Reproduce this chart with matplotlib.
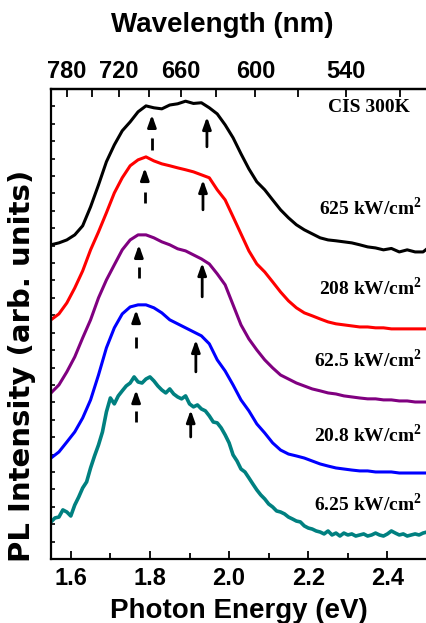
import matplotlib
matplotlib.use('Agg')
import matplotlib.pyplot as plt
from matplotlib.ticker import MultipleLocator, FixedLocator

plt.rcParams['font.family'] = ['Liberation Sans', 'DejaVu Sans']
plt.rcParams['font.weight'] = 'bold'
plt.rcParams['mathtext.fontset'] = 'custom'
plt.rcParams['mathtext.bf'] = 'Liberation Serif:bold'
plt.rcParams['mathtext.rm'] = 'Liberation Serif:bold'

# photon energy grids (eV)
energy = [round(1.55 + 0.02 * i, 2) for i in range(48)] + [2.50]
energy_fine = [round(1.55 + 0.01 * i, 2) for i in range(96)]

# PL spectra, offset for clarity (arb. units)
pl_625 = [18.05, 18.16, 18.33, 18.62, 19.14, 20.23, 21.49, 22.82, 23.79, 24.60,
          25.11, 25.69, 26.03, 25.92, 25.86, 26.08, 26.15, 26.30, 26.17, 26.21,
          25.92, 25.57, 24.94, 24.20, 23.28, 22.41, 21.67, 21.21, 20.63, 20.06,
          19.60, 19.20, 18.91, 18.68, 18.45, 18.33, 18.28, 18.22, 18.16, 18.05,
          17.93, 17.87, 17.76, 17.84, 17.64, 17.76, 17.64, 17.64, 17.82]
pl_208 = [13.74, 14.08, 14.71, 15.57, 16.55, 17.76, 18.79, 19.89, 21.03, 21.90,
          22.59, 22.93, 23.10, 22.87, 22.70, 22.59, 22.47, 22.36, 22.24, 22.07,
          21.90, 21.21, 20.63, 19.66, 18.68, 17.70, 16.95, 16.49, 15.92, 15.34,
          14.83, 14.43, 14.14, 13.97, 13.79, 13.62, 13.51, 13.45, 13.39, 13.33,
          13.33, 13.28, 13.28, 13.22, 13.22, 13.22, 13.22, 13.22, 13.22]
pl_62 = [9.54, 10.00, 10.75, 11.61, 12.70, 13.74, 15.00, 16.03, 16.90, 17.76,
         18.33, 18.62, 18.62, 18.45, 18.22, 18.05, 17.82, 17.70, 17.47, 17.24,
         16.95, 16.38, 15.75, 14.60, 13.45, 12.64, 12.01, 11.44, 10.98, 10.57,
         10.34, 10.11, 9.94, 9.77, 9.66, 9.54, 9.48, 9.37, 9.31, 9.25,
         9.20, 9.20, 9.14, 9.14, 9.08, 9.08, 9.02, 9.02, 9.02]
pl_20 = [5.80, 6.15, 6.72, 7.30, 8.10, 9.14, 10.57, 12.13, 13.28, 14.08,
         14.48, 14.60, 14.60, 14.43, 14.14, 13.74, 13.51, 13.28, 13.05, 12.82,
         12.36, 11.44, 10.80, 10.00, 9.14, 8.51, 7.76, 7.24, 6.67, 6.26,
         6.03, 5.92, 5.80, 5.63, 5.46, 5.34, 5.23, 5.17, 5.11, 5.06,
         5.06, 5.00, 5.00, 5.00, 4.94, 4.94, 4.94, 4.94, 4.94]
pl_6 = [2.13, 2.36, 2.41, 2.82, 2.70, 2.47, 3.10, 3.56, 4.08, 4.43,
        5.23, 5.92, 6.55, 7.30, 8.45, 9.25, 8.91, 9.37, 9.66, 9.94,
        10.11, 10.46, 10.17, 10.11, 10.34, 10.46, 10.23, 9.94, 9.71, 9.54,
        9.77, 9.48, 9.31, 9.20, 9.37, 8.91, 8.74, 8.85, 8.62, 8.51,
        8.22, 7.87, 7.82, 7.53, 7.13, 6.67, 5.98, 5.63, 5.17, 5.00,
        4.66, 4.31, 3.97, 3.68, 3.45, 3.16, 2.99, 2.76, 2.70, 2.59,
        2.41, 2.30, 2.18, 2.13, 1.90, 1.78, 1.72, 1.61, 1.55, 1.44,
        1.61, 1.38, 1.49, 1.32, 1.49, 1.38, 1.44, 1.32, 1.38, 1.44,
        1.32, 1.38, 1.49, 1.38, 1.32, 1.44, 1.61, 1.49, 1.38, 1.44,
        1.32, 1.38, 1.44, 1.38, 1.49, 1.55]

power_labels = ['625 kW/cm$^{\\mathbf{2}}$', '208 kW/cm$^{\\mathbf{2}}$',
                '62.5 kW/cm$^{\\mathbf{2}}$', '20.8 kW/cm$^{\\mathbf{2}}$',
                '6.25 kW/cm$^{\\mathbf{2}}$']
label_y = [19.77, 15.17, 11.02, 6.69, 2.76]
colors = ['black', '#ff0000', '#800080', '#0000ff', '#008080']

# peak markers: (energy, arrow tip, arrow tail)
low_peak = [(1.805, 25.52, 23.51), (1.787, 22.47, 20.46), (1.772, 18.05, 16.15),
            (1.765, 14.31, 12.13), (1.765, 9.71, 7.87)]
high_peak = [(1.944, 25.40, 23.68), (1.934, 21.78, 20.06), (1.932, 17.01, 15.06),
             (1.916, 12.59, 10.75), (1.903, 8.56, 7.01)]

wl_major = [780, 720, 660, 600, 540]
wl_minor = [750, 690, 630, 570, 510]

fig = plt.figure(figsize=(4.26, 6.23), dpi=100)
ax = fig.add_axes([51 / 426, 64 / 623, 376 / 426, 470 / 623])

spectra = [(energy, pl_625), (energy, pl_208), (energy, pl_62), (energy, pl_20), (energy_fine, pl_6)]
for (e, y), c in zip(spectra, colors):
    lw = 2.6 if c == '#008080' else 2.2
    ax.plot(e, y, color=c, lw=lw, solid_joinstyle='round')

head = dict(arrowstyle='-|>,head_length=0.7,head_width=0.25', color='black', lw=2,
            shrinkA=0, shrinkB=0)
for x, tip, tail in low_peak:
    ax.annotate('', xy=(x, tip), xytext=(x, tip - 0.75), arrowprops=head)
    ax.plot([x, x], [tail, tail + 0.65], color='black', lw=2, solid_capstyle='butt')
for x, tip, tail in high_peak:
    ax.annotate('', xy=(x, tip), xytext=(x, tail), arrowprops=head)

for txt, y in zip(power_labels, label_y):
    ax.text(2.4886, y, txt, ha='right', va='baseline', fontsize=14,
            family='Liberation Serif', weight='bold')
ax.text(2.456, 25.67, 'CIS 300K', ha='right', va='baseline', fontsize=14,
        family='Liberation Serif', weight='bold')

ax.set_xlim(1.55, 2.5)
ax.set_ylim(0, 27)
ax.xaxis.set_major_locator(MultipleLocator(0.2))
ax.xaxis.set_minor_locator(MultipleLocator(0.1))
ax.yaxis.set_major_locator(MultipleLocator(1))
ax.set_yticklabels([])
ax.tick_params(axis='x', which='major', direction='in', length=6, width=1.3,
               labelsize=17, pad=6)
ax.tick_params(axis='x', which='minor', direction='in', length=4, width=1.3)
ax.tick_params(axis='y', which='major', direction='in', length=3, width=1.2)
ax.xaxis.set_major_formatter(plt.FuncFormatter(lambda v, p: f'{v:.1f}'))
for s in ax.spines.values():
    s.set_linewidth(1.6)
ax.spines['right'].set_visible(False)

top = ax.secondary_xaxis('top', functions=(lambda e: 1239.84 / e, lambda w: 1239.84 / w))
top.xaxis.set_major_locator(FixedLocator(wl_major))
top.xaxis.set_minor_locator(FixedLocator(wl_minor))
top.tick_params(axis='x', which='major', direction='in', length=6, width=1.3,
                labelsize=17, pad=4)
top.tick_params(axis='x', which='minor', direction='in', length=6, width=1.3)
top.spines['top'].set_linewidth(1.6)

fig.text(238.5 / 426, 1 - 618 / 623, 'Photon Energy (eV)', ha='center', va='baseline',
         fontsize=20, weight='bold')
fig.text(222 / 426, 1 - 31.7 / 623, 'Wavelength (nm)', ha='center', va='baseline',
         fontsize=20, weight='bold')
fig.text(22 / 426, 1 - 366 / 623, 'PL Intensity (arb. units)', ha='center', va='center',
         rotation=90, fontsize=21, weight='bold', family='DejaVu Sans')

fig.savefig('out.png', dpi=100)
